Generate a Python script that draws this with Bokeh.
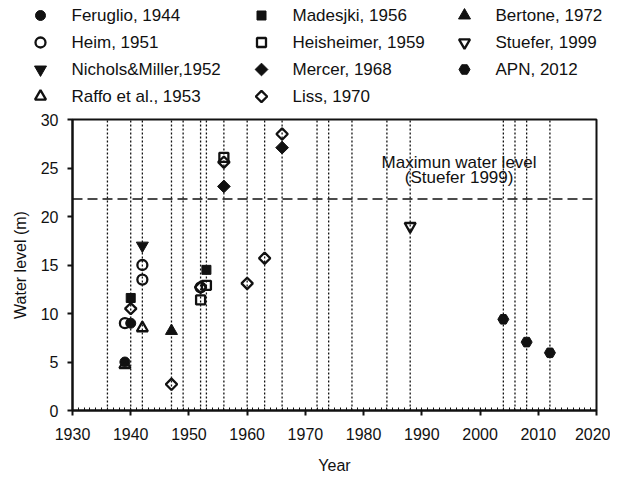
import math
from bokeh.plotting import figure
from bokeh.layouts import column
from bokeh.models import SingleIntervalTicker, Range1d, Span, Label
from bokeh.core.properties import value
from bokeh.embed import file_html
from bokeh.resources import INLINE

FONT = "Liberation Sans"
INK = "#111111"

# ---------------- data ----------------
feruglio_year = [1939, 1940]
feruglio_level = [5.0, 9.0]
heim_year = [1939, 1942, 1942, 1952]
heim_level = [9.0, 15.0, 13.5, 12.7]
nichols_year = [1942]
nichols_level = [17.0]
raffo_year = [1939, 1942]
raffo_level = [4.7, 8.5]
madesjki_year = [1940, 1953]
madesjki_level = [11.6, 14.5]
heisheimer_year = [1952, 1953, 1956]
heisheimer_level = [11.4, 12.9, 26.1]
mercer_year = [1956, 1966]
mercer_level = [23.1, 27.1]
liss_year = [1940, 1947, 1952, 1956, 1960, 1963, 1966]
liss_level = [10.5, 2.7, 12.7, 25.6, 13.1, 15.7, 28.5]
bertone_year = [1947]
bertone_level = [8.2]
stuefer_year = [1988]
stuefer_level = [19.0]
apn_year = [2004, 2008, 2012]
apn_level = [9.4, 7.05, 5.95]

survey_years = [1936, 1940, 1942, 1947, 1949, 1952, 1953, 1956, 1960, 1963,
                1966, 1972, 1974, 1978, 1984, 1988, 2004, 2006, 2008, 2012]
max_level = 21.8
note_lines = ["Maximun water level", "(Stuefer 1999)"]

DIAMOND = math.pi / 4
# series: (label, years, levels, marker, filled, size, angle)
series = [
    ("Feruglio, 1944", feruglio_year, feruglio_level, "circle", True, 10, 0),
    ("Heim, 1951", heim_year, heim_level, "circle", False, 10, 0),
    ("Nichols&Miller,1952", nichols_year, nichols_level, "inverted_triangle", True, 12, 0),
    ("Raffo et al., 1953", raffo_year, raffo_level, "triangle", False, 11, 0),
    ("Madesjki, 1956", madesjki_year, madesjki_level, "square", True, 9, 0),
    ("Heisheimer, 1959", heisheimer_year, heisheimer_level, "square", False, 9, 0),
    ("Mercer, 1968", mercer_year, mercer_level, "square", True, 9, DIAMOND),
    ("Liss, 1970", liss_year, liss_level, "square", False, 8, DIAMOND),
    ("Bertone, 1972", bertone_year, bertone_level, "triangle", True, 12, 0),
    ("Stuefer, 1999", stuefer_year, stuefer_level, "inverted_triangle", False, 11, 0),
    ("APN, 2012", apn_year, apn_level, "hex", True, 11, 0),
]

W = 610
LEG_H = 109
MAIN_H = 368


def style_kwargs(is_filled):
    if is_filled:
        return dict(fill_color=INK, line_color=INK, line_width=1)
    return dict(fill_alpha=0, line_color=INK, line_width=2.3)


# ---------------- legend strip (drawn as its own figure) ----------------
leg = figure(width=W, height=LEG_H, x_range=Range1d(0, W), y_range=Range1d(LEG_H, 0),
             output_backend="svg", toolbar_location=None,
             x_axis_type=None, y_axis_type=None,
             min_border_left=0, min_border_right=0, min_border_top=0, min_border_bottom=0)
leg.frame_align = False
leg.outline_line_color = None
leg.xgrid.visible = False
leg.ygrid.visible = False
leg.background_fill_color = "white"
leg.border_fill_color = "white"

col_marker_x = [40, 261, 464]
text_gap = 31
row_y = [15, 42, 69, 96]
col_of = [0, 0, 0, 0, 1, 1, 1, 1, 2, 2, 2]
row_of = [0, 1, 2, 3, 0, 1, 2, 3, 0, 1, 2]
for (label, _, _, marker, is_filled, size, ang), c, r in zip(series, col_of, row_of):
    leg.scatter([col_marker_x[c]], [row_y[r]], marker=marker, size=size, angle=ang,
                **style_kwargs(is_filled))
    leg.text([col_marker_x[c] + text_gap], [row_y[r]], text=[label],
             text_font=value(FONT), text_font_size="17px", text_color=INK,
             text_align="left", text_baseline="middle")

# ---------------- main figure ----------------
p = figure(width=W, height=MAIN_H, x_range=Range1d(1930, 2020), y_range=Range1d(0, 30),
           output_backend="svg", toolbar_location=None,
           min_border_left=72, min_border_right=14, min_border_top=10, min_border_bottom=67)
p.frame_align = False
p.background_fill_color = "white"
p.border_fill_color = "white"
p.xgrid.visible = False
p.ygrid.visible = False
p.outline_line_color = INK
p.outline_line_width = 2
p.outline_line_alpha = 1

p.xaxis.ticker = SingleIntervalTicker(interval=10, num_minor_ticks=10)
p.yaxis.ticker = SingleIntervalTicker(interval=5, num_minor_ticks=0)
for ax in (p.xaxis[0], p.yaxis[0]):
    ax.axis_line_width = 2
    ax.axis_line_color = INK
    ax.major_tick_line_color = INK
    ax.major_tick_line_width = 2
    ax.major_tick_out = 5
    ax.major_tick_in = 0
    ax.minor_tick_line_color = INK
    ax.minor_tick_line_width = 1
    ax.minor_tick_in = 3
    ax.minor_tick_out = 0
    ax.major_label_text_font = FONT
    ax.major_label_text_font_size = "16px"
    ax.major_label_text_color = INK
    ax.axis_label_text_font = FONT
    ax.axis_label_text_font_size = "16px"
    ax.axis_label_text_font_style = "normal"
    ax.axis_label_text_color = INK
p.xaxis.axis_label = "Year"
p.yaxis.axis_label = "Water level (m)"
p.xaxis.major_label_standoff = 12
p.xaxis.axis_label_standoff = 14
p.yaxis.major_label_standoff = 9
p.yaxis.axis_label_standoff = 9

# vertical dotted survey lines
p.segment(x0=survey_years, y0=0, x1=survey_years, y1=30, line_color=INK,
          line_width=1.3, line_dash="2 2")
# maximum water level line
p.add_layout(Span(location=max_level, dimension="width", line_color=INK,
                  line_width=1.5, line_dash="10 5"))
for txt, yv in zip(note_lines, [25.6, 24.05]):
    p.add_layout(Label(x=1996.4, y=yv, text=txt, text_align="center",
                       text_baseline="middle", text_font=FONT, text_font_size="17px",
                       text_color=INK))

for label, xs, ys, marker, is_filled, size, ang in series:
    p.scatter(xs, ys, marker=marker, size=size, angle=ang, **style_kwargs(is_filled))

layout = column(leg, p, spacing=0)
open("out.html", "w").write(file_html(layout, INLINE))
